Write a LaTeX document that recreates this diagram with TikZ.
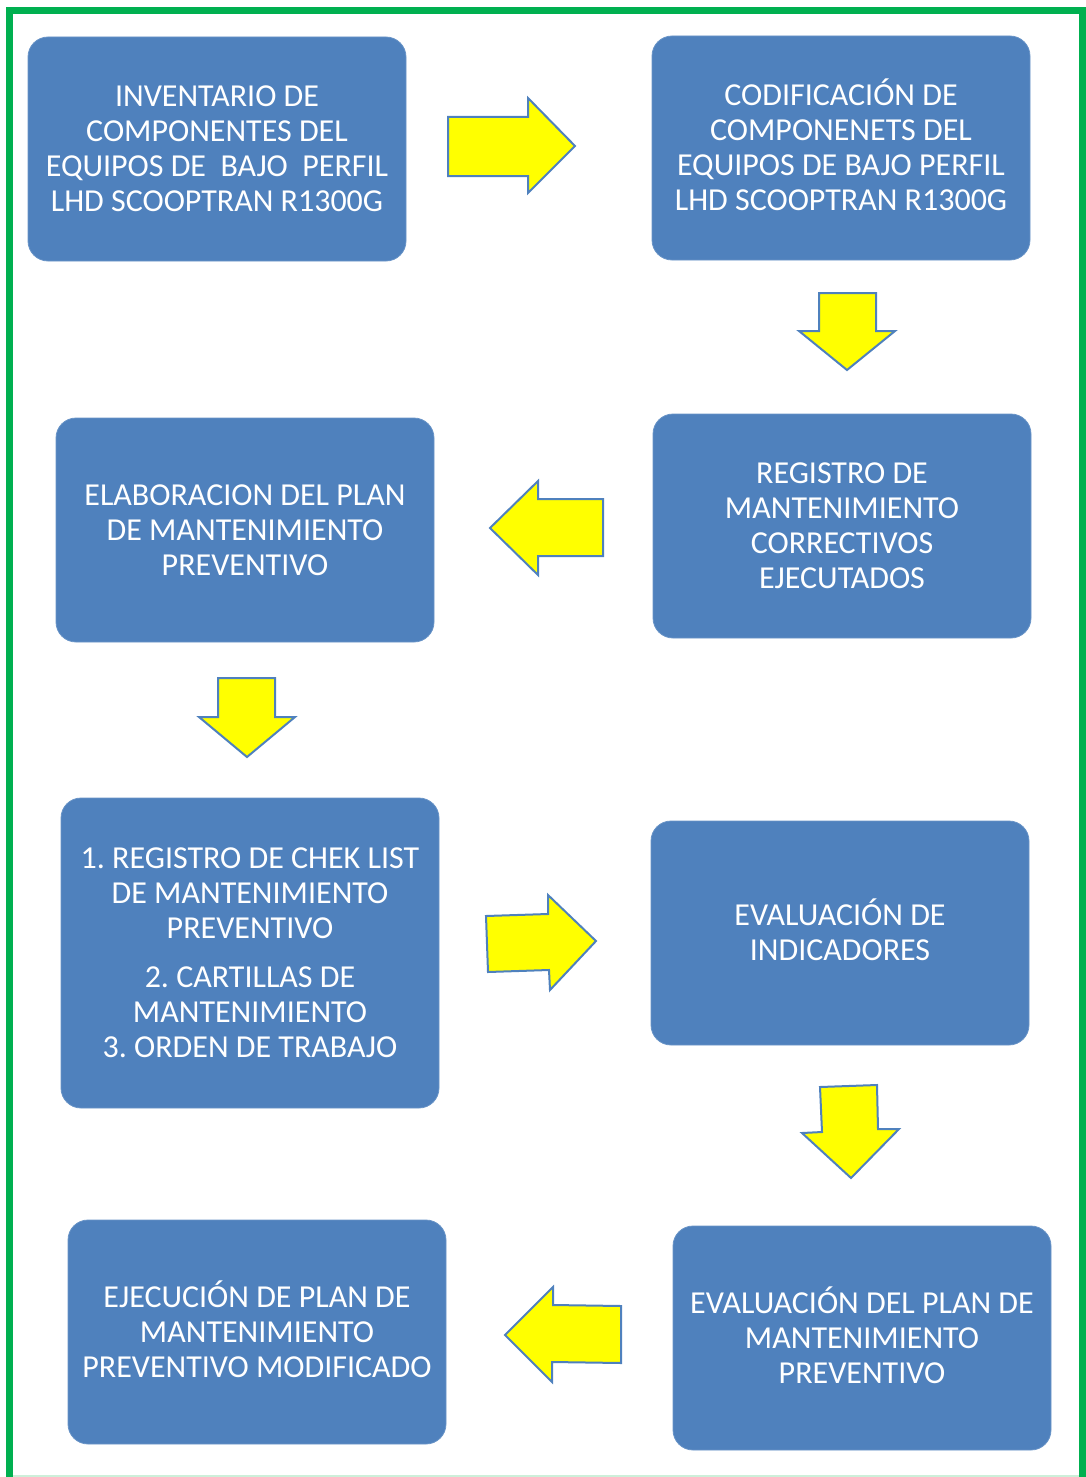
\documentclass[tikz,border=0pt]{standalone}
\usepackage{fontspec}
\setmainfont{Carlito}
\frenchspacing
\definecolor{boxblue}{HTML}{4F81BD}
\definecolor{arrowedge}{HTML}{4F81BD}
\definecolor{framegreen}{HTML}{00B050}
\definecolor{faintgreen}{HTML}{CDEFD9}
\definecolor{arrowyellow}{HTML}{FFFF00}
\newcommand{\capline}[1]{\raisebox{0pt}[21pt]{#1}}
\begin{document}
\begin{tikzpicture}[x=1pt,y=-1pt,
  box/.style={draw=boxblue!85!white, line width=0.8pt, fill=boxblue, rounded corners=20pt,
    minimum width=378pt, minimum height=224pt, text=white, align=center,
    font=\fontsize{32}{35}\selectfont\frenchspacing, inner sep=0pt},
  blockarrow/.style={draw=arrowedge, line width=2pt, fill=arrowyellow, line join=miter}]
\useasboundingbox (0,0) rectangle (1085,1477);
% frame
\draw[faintgreen, line width=1.5pt] (9.5,1476) -- (1082.5,1476);
\draw[framegreen, line width=7pt] (9.5,1480) -- (9.5,10.5) -- (1082.5,10.5) -- (1082.5,1480);
% boxes
\node[box] (b1) at (217,149) {INVENTARIO DE\\COMPONENTES DEL\\EQUIPOS DE\ \ BAJO\ \ PERFIL\\LHD SCOOPTRAN R1300G};
\node[box] (b2) at (841,148) {\capline{CODIFICACIÓN DE}\\COMPONENETS DEL\\EQUIPOS DE BAJO PERFIL\\LHD SCOOPTRAN R1300G};
\node[box] (b3) at (842,526) {REGISTRO DE\\MANTENIMIENTO\\CORRECTIVOS\\EJECUTADOS};
\node[box] (b4) at (245,530) {ELABORACION DEL PLAN\\DE MANTENIMIENTO\\PREVENTIVO};
\node[box, minimum height=310pt] (b5) at (250,953) {1. REGISTRO DE CHEK LIST\\DE MANTENIMIENTO\\PREVENTIVO\\[14pt]2. CARTILLAS DE\\MANTENIMIENTO\\3. ORDEN DE TRABAJO};
\node[box] (b6) at (840,933) {\capline{EVALUACIÓN DE}\\INDICADORES};
\node[box] (b7) at (862,1338) {\capline{EVALUACIÓN DEL PLAN DE}\\MANTENIMIENTO\\PREVENTIVO};
\node[box] (b8) at (257,1332) {\capline{EJECUCIÓN DE PLAN DE}\\MANTENIMIENTO\\PREVENTIVO MODIFICADO};
% block arrows
\draw[blockarrow] (448,117) -- (528,117) -- (528,98) -- (575,146) -- (528,193) -- (528,176) -- (448,176) -- cycle;
\draw[blockarrow] (819,293) -- (876,293) -- (876,331) -- (895,331) -- (847,370) -- (799,331) -- (819,331) -- cycle;
\draw[blockarrow] (603,499) -- (538,499) -- (538,481) -- (490,528) -- (538,575) -- (538,556) -- (603,556) -- cycle;
\draw[blockarrow] (218,678) -- (275,678) -- (275,717) -- (295,717) -- (247,757) -- (199,717) -- (218,717) -- cycle;
\draw[blockarrow] (486,916) -- (548,914) -- (548,895) -- (596,941) -- (550,990) -- (549,970) -- (488,972) -- cycle;
\draw[blockarrow] (820,1087) -- (877,1085) -- (878,1129) -- (899,1129) -- (851,1178) -- (802,1133) -- (822,1132) -- cycle;
\draw[blockarrow] (621,1306) -- (553,1305) -- (553,1287) -- (505,1335) -- (552,1382) -- (552,1362) -- (621,1363) -- cycle;
\end{tikzpicture}
\end{document}
